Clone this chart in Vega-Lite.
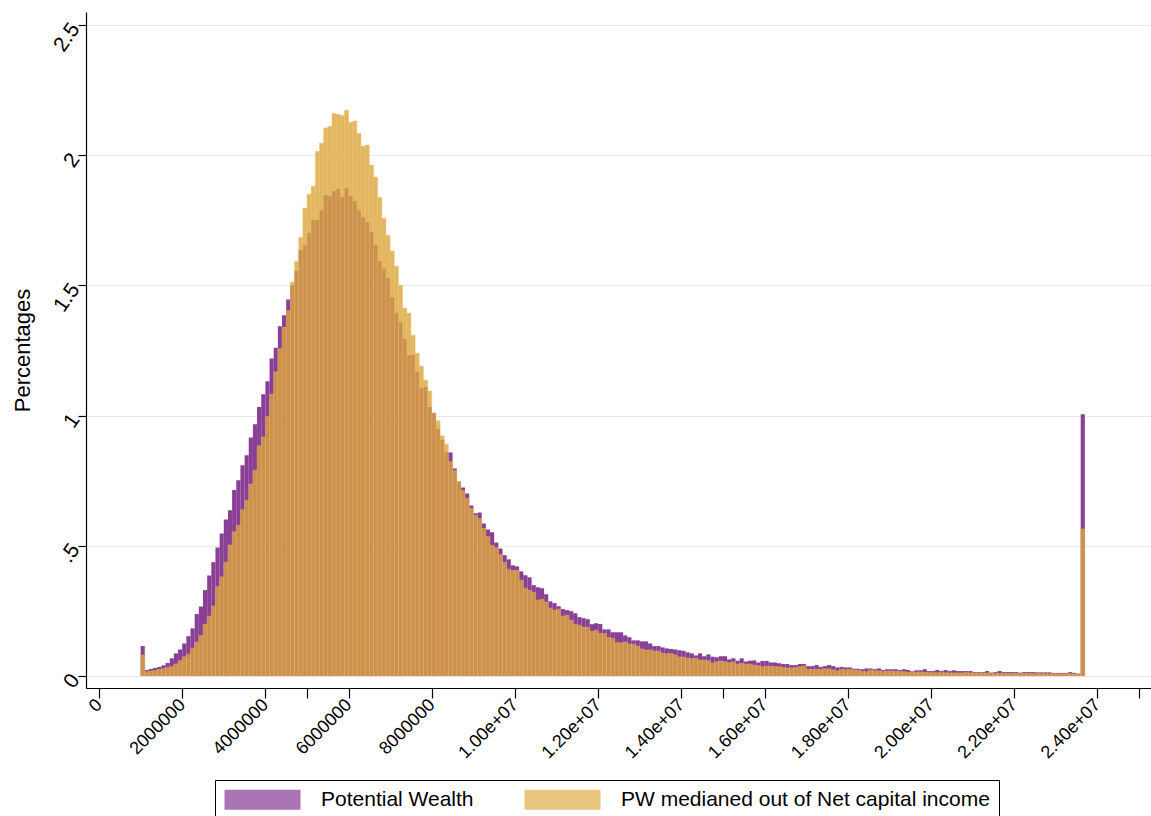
{
  "$schema": "https://vega.github.io/schema/vega-lite/v6.json",
  "width": 1065,
  "height": 676,
  "autosize": "none",
  "padding": {"left": 86, "top": 12, "right": 0, "bottom": 128},
  "background": "white",
  "config": {
    "font": "Liberation Sans",
    "view": {"stroke": null},
    "axis": {"domainColor": "#000", "domainWidth": 1.2, "tickColor": "#000", "tickWidth": 1.2, "labelColor": "#000", "titleColor": "#000"},
    "legend": {
      "orient": "none", "legendX": 129, "legendY": 768, "direction": "horizontal",
      "strokeColor": "#000", "padding": 9,
      "symbolType": "M-1,-1H6.6V1H-1Z", "symbolSize": 400, "symbolStrokeWidth": 0, "symbolOpacity": 0.65,
      "labelFontSize": 21, "labelOffset": 76, "columnPadding": 50, "labelLimit": 600, "labelColor": "#000"
    }
  },
  "data": {
    "values": [
      {"lo": 1.0, "hi": 1.1, "pw": 0.115, "pwm": 0.081},
      {"lo": 1.1, "hi": 1.2, "pw": 0.023, "pwm": 0.017},
      {"lo": 1.2, "hi": 1.3, "pw": 0.027, "pwm": 0.019},
      {"lo": 1.3, "hi": 1.4, "pw": 0.031, "pwm": 0.022},
      {"lo": 1.4, "hi": 1.5, "pw": 0.035, "pwm": 0.026},
      {"lo": 1.5, "hi": 1.6, "pw": 0.041, "pwm": 0.029},
      {"lo": 1.6, "hi": 1.7, "pw": 0.050, "pwm": 0.033},
      {"lo": 1.7, "hi": 1.8, "pw": 0.068, "pwm": 0.036},
      {"lo": 1.8, "hi": 1.9, "pw": 0.087, "pwm": 0.046},
      {"lo": 1.9, "hi": 2.0, "pw": 0.102, "pwm": 0.059},
      {"lo": 2.0, "hi": 2.1, "pw": 0.125, "pwm": 0.074},
      {"lo": 2.1, "hi": 2.2, "pw": 0.153, "pwm": 0.084},
      {"lo": 2.2, "hi": 2.3, "pw": 0.183, "pwm": 0.107},
      {"lo": 2.3, "hi": 2.4, "pw": 0.238, "pwm": 0.130},
      {"lo": 2.4, "hi": 2.5, "pw": 0.267, "pwm": 0.156},
      {"lo": 2.5, "hi": 2.6, "pw": 0.330, "pwm": 0.199},
      {"lo": 2.6, "hi": 2.7, "pw": 0.386, "pwm": 0.230},
      {"lo": 2.7, "hi": 2.8, "pw": 0.437, "pwm": 0.269},
      {"lo": 2.8, "hi": 2.9, "pw": 0.494, "pwm": 0.343},
      {"lo": 2.9, "hi": 3.0, "pw": 0.547, "pwm": 0.381},
      {"lo": 3.0, "hi": 3.1, "pw": 0.601, "pwm": 0.437},
      {"lo": 3.1, "hi": 3.2, "pw": 0.637, "pwm": 0.503},
      {"lo": 3.2, "hi": 3.3, "pw": 0.714, "pwm": 0.554},
      {"lo": 3.3, "hi": 3.4, "pw": 0.752, "pwm": 0.579},
      {"lo": 3.4, "hi": 3.5, "pw": 0.809, "pwm": 0.639},
      {"lo": 3.5, "hi": 3.6, "pw": 0.848, "pwm": 0.675},
      {"lo": 3.6, "hi": 3.7, "pw": 0.916, "pwm": 0.737},
      {"lo": 3.7, "hi": 3.8, "pw": 0.967, "pwm": 0.790},
      {"lo": 3.8, "hi": 3.9, "pw": 1.033, "pwm": 0.884},
      {"lo": 3.9, "hi": 4.0, "pw": 1.082, "pwm": 0.918},
      {"lo": 4.0, "hi": 4.1, "pw": 1.132, "pwm": 0.997},
      {"lo": 4.1, "hi": 4.2, "pw": 1.219, "pwm": 1.082},
      {"lo": 4.2, "hi": 4.3, "pw": 1.261, "pwm": 1.168},
      {"lo": 4.3, "hi": 4.4, "pw": 1.343, "pwm": 1.257},
      {"lo": 4.4, "hi": 4.5, "pw": 1.385, "pwm": 1.340},
      {"lo": 4.5, "hi": 4.6, "pw": 1.446, "pwm": 1.404},
      {"lo": 4.6, "hi": 4.7, "pw": 1.500, "pwm": 1.513},
      {"lo": 4.7, "hi": 4.8, "pw": 1.555, "pwm": 1.593},
      {"lo": 4.8, "hi": 4.9, "pw": 1.636, "pwm": 1.685},
      {"lo": 4.9, "hi": 5.0, "pw": 1.655, "pwm": 1.797},
      {"lo": 5.0, "hi": 5.1, "pw": 1.701, "pwm": 1.850},
      {"lo": 5.1, "hi": 5.2, "pw": 1.751, "pwm": 1.881},
      {"lo": 5.2, "hi": 5.3, "pw": 1.751, "pwm": 2.015},
      {"lo": 5.3, "hi": 5.4, "pw": 1.789, "pwm": 2.046},
      {"lo": 5.4, "hi": 5.5, "pw": 1.847, "pwm": 2.105},
      {"lo": 5.5, "hi": 5.6, "pw": 1.843, "pwm": 2.111},
      {"lo": 5.6, "hi": 5.7, "pw": 1.862, "pwm": 2.161},
      {"lo": 5.7, "hi": 5.8, "pw": 1.870, "pwm": 2.157},
      {"lo": 5.8, "hi": 5.9, "pw": 1.839, "pwm": 2.153},
      {"lo": 5.9, "hi": 6.0, "pw": 1.873, "pwm": 2.173},
      {"lo": 6.0, "hi": 6.1, "pw": 1.843, "pwm": 2.127},
      {"lo": 6.1, "hi": 6.2, "pw": 1.824, "pwm": 2.131},
      {"lo": 6.2, "hi": 6.3, "pw": 1.789, "pwm": 2.084},
      {"lo": 6.3, "hi": 6.4, "pw": 1.762, "pwm": 2.035},
      {"lo": 6.4, "hi": 6.5, "pw": 1.743, "pwm": 2.039},
      {"lo": 6.5, "hi": 6.6, "pw": 1.705, "pwm": 1.962},
      {"lo": 6.6, "hi": 6.7, "pw": 1.655, "pwm": 1.916},
      {"lo": 6.7, "hi": 6.8, "pw": 1.593, "pwm": 1.839},
      {"lo": 6.8, "hi": 6.9, "pw": 1.564, "pwm": 1.758},
      {"lo": 6.9, "hi": 7.0, "pw": 1.529, "pwm": 1.693},
      {"lo": 7.0, "hi": 7.1, "pw": 1.455, "pwm": 1.632},
      {"lo": 7.1, "hi": 7.2, "pw": 1.394, "pwm": 1.574},
      {"lo": 7.2, "hi": 7.3, "pw": 1.359, "pwm": 1.501},
      {"lo": 7.3, "hi": 7.4, "pw": 1.294, "pwm": 1.413},
      {"lo": 7.4, "hi": 7.5, "pw": 1.233, "pwm": 1.394},
      {"lo": 7.5, "hi": 7.6, "pw": 1.233, "pwm": 1.309},
      {"lo": 7.6, "hi": 7.7, "pw": 1.168, "pwm": 1.240},
      {"lo": 7.7, "hi": 7.8, "pw": 1.107, "pwm": 1.191},
      {"lo": 7.8, "hi": 7.9, "pw": 1.110, "pwm": 1.137},
      {"lo": 7.9, "hi": 8.0, "pw": 1.033, "pwm": 1.095},
      {"lo": 8.0, "hi": 8.1, "pw": 1.010, "pwm": 1.010},
      {"lo": 8.1, "hi": 8.2, "pw": 0.949, "pwm": 0.980},
      {"lo": 8.2, "hi": 8.3, "pw": 0.907, "pwm": 0.923},
      {"lo": 8.3, "hi": 8.4, "pw": 0.860, "pwm": 0.891},
      {"lo": 8.4, "hi": 8.5, "pw": 0.858, "pwm": 0.824},
      {"lo": 8.5, "hi": 8.6, "pw": 0.797, "pwm": 0.789},
      {"lo": 8.6, "hi": 8.7, "pw": 0.747, "pwm": 0.747},
      {"lo": 8.7, "hi": 8.8, "pw": 0.724, "pwm": 0.713},
      {"lo": 8.8, "hi": 8.9, "pw": 0.701, "pwm": 0.683},
      {"lo": 8.9, "hi": 9.0, "pw": 0.655, "pwm": 0.644},
      {"lo": 9.0, "hi": 9.1, "pw": 0.625, "pwm": 0.617},
      {"lo": 9.1, "hi": 9.2, "pw": 0.628, "pwm": 0.605},
      {"lo": 9.2, "hi": 9.3, "pw": 0.586, "pwm": 0.567},
      {"lo": 9.3, "hi": 9.4, "pw": 0.563, "pwm": 0.536},
      {"lo": 9.4, "hi": 9.5, "pw": 0.552, "pwm": 0.502},
      {"lo": 9.5, "hi": 9.6, "pw": 0.513, "pwm": 0.494},
      {"lo": 9.6, "hi": 9.7, "pw": 0.490, "pwm": 0.467},
      {"lo": 9.7, "hi": 9.8, "pw": 0.464, "pwm": 0.437},
      {"lo": 9.8, "hi": 9.9, "pw": 0.448, "pwm": 0.410},
      {"lo": 9.9, "hi": 10.0, "pw": 0.425, "pwm": 0.406},
      {"lo": 10.0, "hi": 10.1, "pw": 0.421, "pwm": 0.406},
      {"lo": 10.1, "hi": 10.2, "pw": 0.402, "pwm": 0.368},
      {"lo": 10.2, "hi": 10.3, "pw": 0.387, "pwm": 0.337},
      {"lo": 10.3, "hi": 10.4, "pw": 0.379, "pwm": 0.330},
      {"lo": 10.4, "hi": 10.5, "pw": 0.349, "pwm": 0.322},
      {"lo": 10.5, "hi": 10.6, "pw": 0.341, "pwm": 0.291},
      {"lo": 10.6, "hi": 10.7, "pw": 0.337, "pwm": 0.295},
      {"lo": 10.7, "hi": 10.8, "pw": 0.314, "pwm": 0.284},
      {"lo": 10.8, "hi": 10.9, "pw": 0.287, "pwm": 0.261},
      {"lo": 10.9, "hi": 11.0, "pw": 0.280, "pwm": 0.253},
      {"lo": 11.0, "hi": 11.1, "pw": 0.268, "pwm": 0.257},
      {"lo": 11.1, "hi": 11.2, "pw": 0.257, "pwm": 0.230},
      {"lo": 11.2, "hi": 11.3, "pw": 0.253, "pwm": 0.234},
      {"lo": 11.3, "hi": 11.4, "pw": 0.249, "pwm": 0.215},
      {"lo": 11.4, "hi": 11.5, "pw": 0.241, "pwm": 0.199},
      {"lo": 11.5, "hi": 11.6, "pw": 0.226, "pwm": 0.195},
      {"lo": 11.6, "hi": 11.7, "pw": 0.222, "pwm": 0.188},
      {"lo": 11.7, "hi": 11.8, "pw": 0.218, "pwm": 0.188},
      {"lo": 11.8, "hi": 11.9, "pw": 0.199, "pwm": 0.172},
      {"lo": 11.9, "hi": 12.0, "pw": 0.203, "pwm": 0.176},
      {"lo": 12.0, "hi": 12.1, "pw": 0.200, "pwm": 0.164},
      {"lo": 12.1, "hi": 12.2, "pw": 0.179, "pwm": 0.164},
      {"lo": 12.2, "hi": 12.3, "pw": 0.179, "pwm": 0.149},
      {"lo": 12.3, "hi": 12.4, "pw": 0.168, "pwm": 0.145},
      {"lo": 12.4, "hi": 12.5, "pw": 0.168, "pwm": 0.129},
      {"lo": 12.5, "hi": 12.6, "pw": 0.168, "pwm": 0.127},
      {"lo": 12.6, "hi": 12.7, "pw": 0.156, "pwm": 0.131},
      {"lo": 12.7, "hi": 12.8, "pw": 0.149, "pwm": 0.123},
      {"lo": 12.8, "hi": 12.9, "pw": 0.137, "pwm": 0.122},
      {"lo": 12.9, "hi": 13.0, "pw": 0.137, "pwm": 0.115},
      {"lo": 13.0, "hi": 13.1, "pw": 0.133, "pwm": 0.104},
      {"lo": 13.1, "hi": 13.2, "pw": 0.133, "pwm": 0.100},
      {"lo": 13.2, "hi": 13.3, "pw": 0.125, "pwm": 0.100},
      {"lo": 13.3, "hi": 13.4, "pw": 0.115, "pwm": 0.096},
      {"lo": 13.4, "hi": 13.5, "pw": 0.115, "pwm": 0.096},
      {"lo": 13.5, "hi": 13.6, "pw": 0.110, "pwm": 0.088},
      {"lo": 13.6, "hi": 13.7, "pw": 0.106, "pwm": 0.086},
      {"lo": 13.7, "hi": 13.8, "pw": 0.104, "pwm": 0.087},
      {"lo": 13.8, "hi": 13.9, "pw": 0.102, "pwm": 0.081},
      {"lo": 13.9, "hi": 14.0, "pw": 0.099, "pwm": 0.073},
      {"lo": 14.0, "hi": 14.1, "pw": 0.097, "pwm": 0.073},
      {"lo": 14.1, "hi": 14.2, "pw": 0.091, "pwm": 0.069},
      {"lo": 14.2, "hi": 14.3, "pw": 0.087, "pwm": 0.067},
      {"lo": 14.3, "hi": 14.4, "pw": 0.079, "pwm": 0.069},
      {"lo": 14.4, "hi": 14.5, "pw": 0.087, "pwm": 0.061},
      {"lo": 14.5, "hi": 14.6, "pw": 0.076, "pwm": 0.061},
      {"lo": 14.6, "hi": 14.7, "pw": 0.083, "pwm": 0.059},
      {"lo": 14.7, "hi": 14.8, "pw": 0.074, "pwm": 0.050},
      {"lo": 14.8, "hi": 14.9, "pw": 0.072, "pwm": 0.055},
      {"lo": 14.9, "hi": 15.0, "pw": 0.076, "pwm": 0.058},
      {"lo": 15.0, "hi": 15.1, "pw": 0.076, "pwm": 0.055},
      {"lo": 15.1, "hi": 15.2, "pw": 0.064, "pwm": 0.051},
      {"lo": 15.2, "hi": 15.3, "pw": 0.068, "pwm": 0.054},
      {"lo": 15.3, "hi": 15.4, "pw": 0.059, "pwm": 0.046},
      {"lo": 15.4, "hi": 15.5, "pw": 0.068, "pwm": 0.049},
      {"lo": 15.5, "hi": 15.6, "pw": 0.056, "pwm": 0.046},
      {"lo": 15.6, "hi": 15.7, "pw": 0.059, "pwm": 0.046},
      {"lo": 15.7, "hi": 15.8, "pw": 0.060, "pwm": 0.042},
      {"lo": 15.8, "hi": 15.9, "pw": 0.052, "pwm": 0.040},
      {"lo": 15.9, "hi": 16.0, "pw": 0.058, "pwm": 0.036},
      {"lo": 16.0, "hi": 16.1, "pw": 0.058, "pwm": 0.038},
      {"lo": 16.1, "hi": 16.2, "pw": 0.052, "pwm": 0.038},
      {"lo": 16.2, "hi": 16.3, "pw": 0.052, "pwm": 0.036},
      {"lo": 16.3, "hi": 16.4, "pw": 0.049, "pwm": 0.036},
      {"lo": 16.4, "hi": 16.5, "pw": 0.046, "pwm": 0.033},
      {"lo": 16.5, "hi": 16.6, "pw": 0.046, "pwm": 0.031},
      {"lo": 16.6, "hi": 16.7, "pw": 0.042, "pwm": 0.031},
      {"lo": 16.7, "hi": 16.8, "pw": 0.042, "pwm": 0.033},
      {"lo": 16.8, "hi": 16.9, "pw": 0.046, "pwm": 0.036},
      {"lo": 16.9, "hi": 17.0, "pw": 0.046, "pwm": 0.038},
      {"lo": 17.0, "hi": 17.1, "pw": 0.038, "pwm": 0.026},
      {"lo": 17.1, "hi": 17.2, "pw": 0.038, "pwm": 0.026},
      {"lo": 17.2, "hi": 17.3, "pw": 0.042, "pwm": 0.026},
      {"lo": 17.3, "hi": 17.4, "pw": 0.035, "pwm": 0.026},
      {"lo": 17.4, "hi": 17.5, "pw": 0.038, "pwm": 0.028},
      {"lo": 17.5, "hi": 17.6, "pw": 0.042, "pwm": 0.028},
      {"lo": 17.6, "hi": 17.7, "pw": 0.038, "pwm": 0.024},
      {"lo": 17.7, "hi": 17.8, "pw": 0.033, "pwm": 0.020},
      {"lo": 17.8, "hi": 17.9, "pw": 0.035, "pwm": 0.026},
      {"lo": 17.9, "hi": 18.0, "pw": 0.033, "pwm": 0.024},
      {"lo": 18.0, "hi": 18.1, "pw": 0.033, "pwm": 0.026},
      {"lo": 18.1, "hi": 18.2, "pw": 0.028, "pwm": 0.023},
      {"lo": 18.2, "hi": 18.3, "pw": 0.028, "pwm": 0.023},
      {"lo": 18.3, "hi": 18.4, "pw": 0.026, "pwm": 0.018},
      {"lo": 18.4, "hi": 18.5, "pw": 0.029, "pwm": 0.017},
      {"lo": 18.5, "hi": 18.6, "pw": 0.029, "pwm": 0.023},
      {"lo": 18.6, "hi": 18.7, "pw": 0.026, "pwm": 0.020},
      {"lo": 18.7, "hi": 18.8, "pw": 0.029, "pwm": 0.020},
      {"lo": 18.8, "hi": 18.9, "pw": 0.023, "pwm": 0.018},
      {"lo": 18.9, "hi": 19.0, "pw": 0.026, "pwm": 0.019},
      {"lo": 19.0, "hi": 19.1, "pw": 0.026, "pwm": 0.019},
      {"lo": 19.1, "hi": 19.2, "pw": 0.026, "pwm": 0.018},
      {"lo": 19.2, "hi": 19.3, "pw": 0.023, "pwm": 0.018},
      {"lo": 19.3, "hi": 19.4, "pw": 0.026, "pwm": 0.017},
      {"lo": 19.4, "hi": 19.5, "pw": 0.023, "pwm": 0.015},
      {"lo": 19.5, "hi": 19.6, "pw": 0.018, "pwm": 0.014},
      {"lo": 19.6, "hi": 19.7, "pw": 0.022, "pwm": 0.015},
      {"lo": 19.7, "hi": 19.8, "pw": 0.022, "pwm": 0.015},
      {"lo": 19.8, "hi": 19.9, "pw": 0.026, "pwm": 0.014},
      {"lo": 19.9, "hi": 20.0, "pw": 0.019, "pwm": 0.014},
      {"lo": 20.0, "hi": 20.1, "pw": 0.019, "pwm": 0.013},
      {"lo": 20.1, "hi": 20.2, "pw": 0.023, "pwm": 0.013},
      {"lo": 20.2, "hi": 20.3, "pw": 0.019, "pwm": 0.013},
      {"lo": 20.3, "hi": 20.4, "pw": 0.023, "pwm": 0.013},
      {"lo": 20.4, "hi": 20.5, "pw": 0.019, "pwm": 0.012},
      {"lo": 20.5, "hi": 20.6, "pw": 0.022, "pwm": 0.012},
      {"lo": 20.6, "hi": 20.7, "pw": 0.019, "pwm": 0.012},
      {"lo": 20.7, "hi": 20.8, "pw": 0.019, "pwm": 0.012},
      {"lo": 20.8, "hi": 20.9, "pw": 0.019, "pwm": 0.013},
      {"lo": 20.9, "hi": 21.0, "pw": 0.019, "pwm": 0.012},
      {"lo": 21.0, "hi": 21.1, "pw": 0.015, "pwm": 0.012},
      {"lo": 21.1, "hi": 21.2, "pw": 0.015, "pwm": 0.012},
      {"lo": 21.2, "hi": 21.3, "pw": 0.015, "pwm": 0.012},
      {"lo": 21.3, "hi": 21.4, "pw": 0.019, "pwm": 0.012},
      {"lo": 21.4, "hi": 21.5, "pw": 0.013, "pwm": 0.009},
      {"lo": 21.5, "hi": 21.6, "pw": 0.015, "pwm": 0.010},
      {"lo": 21.6, "hi": 21.7, "pw": 0.019, "pwm": 0.010},
      {"lo": 21.7, "hi": 21.8, "pw": 0.015, "pwm": 0.010},
      {"lo": 21.8, "hi": 21.9, "pw": 0.015, "pwm": 0.010},
      {"lo": 21.9, "hi": 22.0, "pw": 0.015, "pwm": 0.010},
      {"lo": 22.0, "hi": 22.1, "pw": 0.015, "pwm": 0.010},
      {"lo": 22.1, "hi": 22.2, "pw": 0.013, "pwm": 0.009},
      {"lo": 22.2, "hi": 22.3, "pw": 0.015, "pwm": 0.010},
      {"lo": 22.3, "hi": 22.4, "pw": 0.015, "pwm": 0.010},
      {"lo": 22.4, "hi": 22.5, "pw": 0.015, "pwm": 0.009},
      {"lo": 22.5, "hi": 22.6, "pw": 0.014, "pwm": 0.009},
      {"lo": 22.6, "hi": 22.7, "pw": 0.014, "pwm": 0.009},
      {"lo": 22.7, "hi": 22.8, "pw": 0.014, "pwm": 0.009},
      {"lo": 22.8, "hi": 22.9, "pw": 0.014, "pwm": 0.009},
      {"lo": 22.9, "hi": 23.0, "pw": 0.012, "pwm": 0.009},
      {"lo": 23.0, "hi": 23.1, "pw": 0.012, "pwm": 0.009},
      {"lo": 23.1, "hi": 23.2, "pw": 0.012, "pwm": 0.009},
      {"lo": 23.2, "hi": 23.3, "pw": 0.012, "pwm": 0.009},
      {"lo": 23.3, "hi": 23.4, "pw": 0.015, "pwm": 0.010},
      {"lo": 23.4, "hi": 23.5, "pw": 0.012, "pwm": 0.008},
      {"lo": 23.5, "hi": 23.6, "pw": 0.009, "pwm": 0.006},
      {"lo": 23.6, "hi": 23.7, "pw": 1.005, "pwm": 0.565}
    ]
  },
  "encoding": {
    "x": {
      "field": "lo", "type": "quantitative",
      "scale": {"domain": [-0.3125, 25.29], "nice": false, "zero": false},
      "axis": {
        "title": null, "grid": false,
        "values": [0, 2, 4, 5, 6, 8, 10, 12, 14, 15, 16, 18, 20, 22, 24, 25],
        "labelExpr": "datum.value == 5 || datum.value == 15 || datum.value == 25 ? '' : datum.value < 10 ? format(datum.value * 1000000, 'd') : format(datum.value / 10, '.2f') + 'e+07'",
        "labelOverlap": false, "labelBound": false, "labelFlush": false,
        "labelAngle": -45, "labelAlign": "right", "labelBaseline": "middle",
        "labelFontSize": 18, "labelPadding": 4, "tickSize": 10
      }
    },
    "x2": {"field": "hi"},
    "y2": {"datum": 0}
  },
  "layer": [
    {
      "mark": {"type": "rect", "opacity": 0.9},
      "encoding": {
        "y": {
          "field": "pw", "type": "quantitative",
          "scale": {"domain": [-0.046, 2.55], "nice": false, "zero": false},
          "axis": {
            "title": "Percentages", "titleFontSize": 22, "titleFontWeight": "normal",
            "titleX": -64, "titleY": 338, "titleAngle": -90, "titleAlign": "center", "titleBaseline": "middle",
            "values": [0, 0.5, 1, 1.5, 2, 2.5],
            "labelExpr": "datum.value == 0.5 ? '.5' : format(datum.value, '~g')",
            "labelOverlap": false,
            "labelAngle": -55, "labelAlign": "right", "labelBaseline": "middle",
            "labelFontSize": 21, "labelPadding": 3, "tickSize": 8,
            "grid": true, "gridColor": "#e8e8e8", "gridWidth": 1.2
          }
        },
        "color": {
          "datum": "Potential Wealth",
          "scale": {"domain": ["Potential Wealth", "PW medianed out of Net capital income"], "range": ["#7b2a8a", "#dda63c"]},
          "legend": {"title": null}
        }
      }
    },
    {
      "mark": {"type": "rect", "opacity": 0.8, "stroke": "#e9bd62", "strokeWidth": 0.5},
      "encoding": {
        "y": {"field": "pwm", "type": "quantitative"},
        "color": {"datum": "PW medianed out of Net capital income"}
      }
    }
  ]
}
